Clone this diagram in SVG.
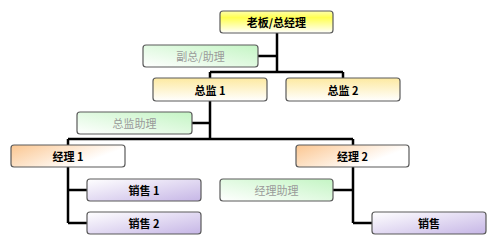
<svg xmlns="http://www.w3.org/2000/svg" width="500" height="248" viewBox="0 0 500 248">
<style>
.box{stroke:#5a5a5a;stroke-width:1.2}
.lbl{font-family:"Noto Sans CJK SC","Liberation Sans",sans-serif;font-size:11px;text-anchor:middle;dominant-baseline:central}
.main{font-weight:bold;fill:#000}
.asst{fill:#9a9a9a}
.conn{stroke:#000;stroke-width:2.5;fill:none}
</style>
<defs>
<linearGradient id="gTop" x1="0" y1="0" x2="0" y2="1">
<stop offset="0" stop-color="#ffffb0"/><stop offset="0.3" stop-color="#ffff50"/><stop offset="1" stop-color="#ffffff"/>
</linearGradient>
<linearGradient id="gDir" x1="0" y1="0" x2="0" y2="1">
<stop offset="0" stop-color="#fde9a0"/><stop offset="1" stop-color="#ffffff"/>
</linearGradient>
<linearGradient id="gGreen" x1="0" y1="1" x2="1" y2="0">
<stop offset="0" stop-color="#ffffff"/><stop offset="1" stop-color="#c4f5c4"/>
</linearGradient>
<linearGradient id="gMgr" x1="0" y1="0" x2="1" y2="0.5">
<stop offset="0" stop-color="#fbc690"/><stop offset="0.85" stop-color="#ffffff"/>
</linearGradient>
<linearGradient id="gSale" x1="0" y1="0" x2="1" y2="1">
<stop offset="0" stop-color="#ffffff"/><stop offset="1" stop-color="#c6b6e6"/>
</linearGradient>
</defs>
<g id="connectors">
<path class="conn" d="M277 33V72M210 72H343M210 72V78M343 72V78M258 56H277"/>
<path class="conn" d="M210 101V139M192 123H210M68 139H353M68 139V145M353 139V145"/>
<path class="conn" d="M68 167V223M68 190H87M68 223H87"/>
<path class="conn" d="M353 167V223M333 190H353M353 223H372"/>
</g>
<g id="boss"><rect class="box" x="220" y="11" width="113" height="22" rx="3" fill="url(#gTop)"/><text class="lbl main" x="276.5" y="22">老板/总经理</text></g>
<g id="vp"><rect class="box" x="143" y="45" width="115" height="22" rx="3" fill="url(#gGreen)"/><text class="lbl asst" x="200.5" y="56">副总/助理</text></g>
<g id="dir1"><rect class="box" x="153" y="78" width="114" height="23" rx="3" fill="url(#gDir)"/><text class="lbl main" x="210" y="89.5">总监 1</text></g>
<g id="dir2"><rect class="box" x="286" y="78" width="114" height="23" rx="3" fill="url(#gDir)"/><text class="lbl main" x="343" y="89.5">总监 2</text></g>
<g id="dirAsst"><rect class="box" x="77" y="112" width="115" height="22" rx="3" fill="url(#gGreen)"/><text class="lbl asst" x="134.5" y="123">总监助理</text></g>
<g id="mgr1"><rect class="box" x="11" y="145" width="114" height="22" rx="3" fill="url(#gMgr)"/><text class="lbl main" x="68" y="156">经理 1</text></g>
<g id="mgr2"><rect class="box" x="296" y="145" width="113" height="22" rx="3" fill="url(#gMgr)"/><text class="lbl main" x="352.5" y="156">经理 2</text></g>
<g id="sale1"><rect class="box" x="87" y="179" width="114" height="22" rx="3" fill="url(#gSale)"/><text class="lbl main" x="144" y="190">销售 1</text></g>
<g id="sale2"><rect class="box" x="87" y="212" width="114" height="22" rx="3" fill="url(#gSale)"/><text class="lbl main" x="144" y="223">销售 2</text></g>
<g id="mgrAsst"><rect class="box" x="220" y="179" width="113" height="22" rx="3" fill="url(#gGreen)"/><text class="lbl asst" x="276.5" y="190">经理助理</text></g>
<g id="sale3"><rect class="box" x="372" y="212" width="114" height="22" rx="3" fill="url(#gSale)"/><text class="lbl main" x="429" y="223">销售</text></g>
</svg>
